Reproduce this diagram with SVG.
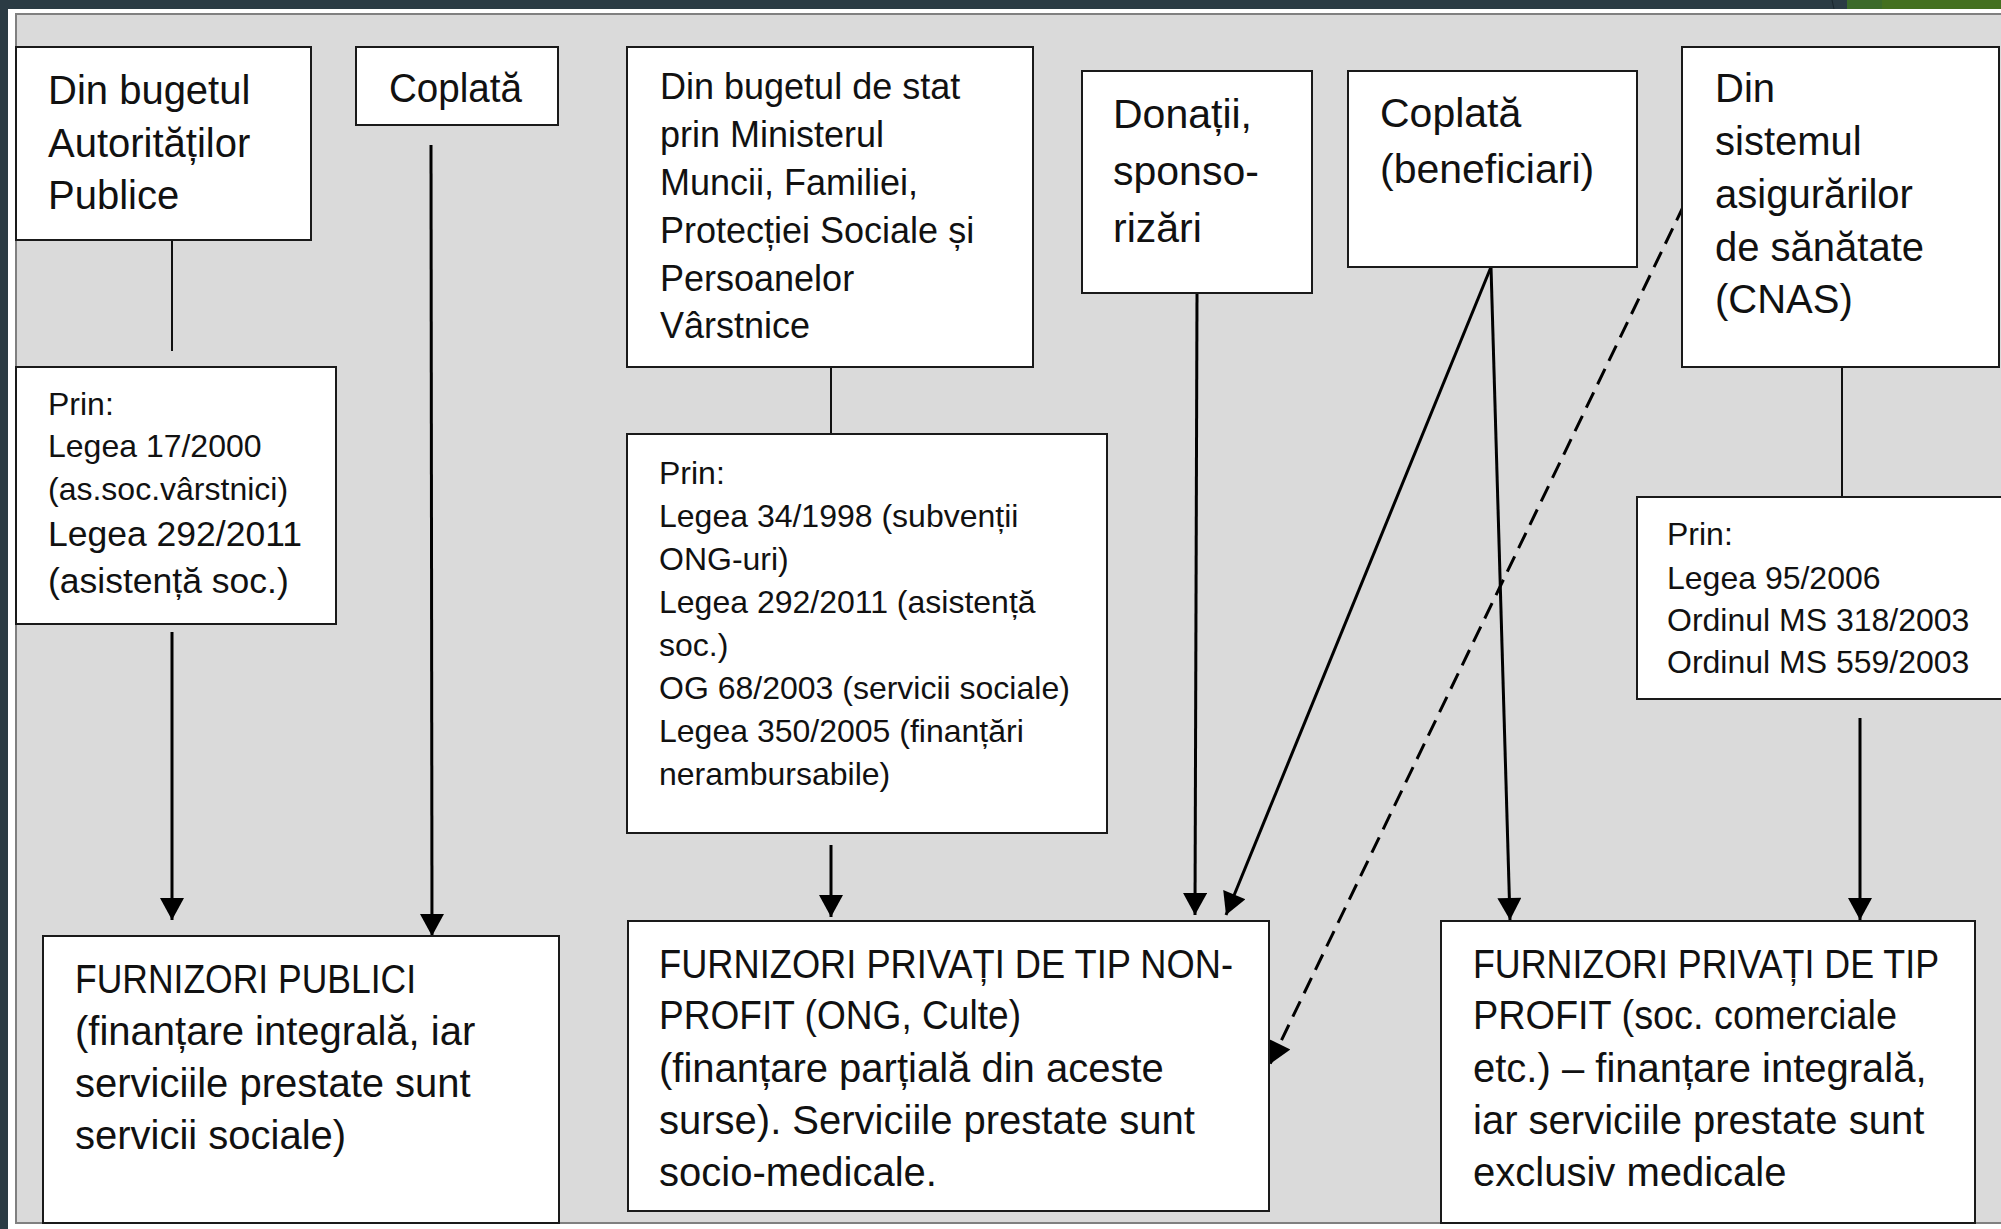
<svg xmlns="http://www.w3.org/2000/svg" width="2001" height="1229" viewBox="0 0 2001 1229">
<style>
.box{fill:#ffffff;stroke:#1a1a1a;stroke-width:2}
.t{font-family:"Liberation Sans",Arial,sans-serif;fill:#111111}
.s40{font-size:40px}
.s36{font-size:36px}
.s32{font-size:32px}
.s35{font-size:35.5px}
.s41{font-size:41px}
.c{stroke:#000;stroke-width:3;fill:none}
.thin{stroke:#111;stroke-width:2;fill:none}
.dash{stroke:#000;stroke-width:3;fill:none;stroke-dasharray:17 9}
</style>
<defs>
<marker id="arr" markerUnits="userSpaceOnUse" markerWidth="24" markerHeight="24" viewBox="0 0 22 24" refX="22" refY="12" orient="auto">
<path d="M0,0 L22,12 L0,24 Z" fill="#000"/>
</marker>
</defs>
<rect x="0" y="0" width="2001" height="1229" fill="#ffffff"/>
<rect x="0" y="0" width="2001" height="9" fill="#2b3b44"/>
<rect x="0" y="0" width="8" height="1229" fill="#2b3b44"/>
<rect x="1847" y="0" width="154" height="9" fill="#44701f"/>
<rect x="1847" y="0" width="35" height="9" fill="#3b6a2a"/>
<line x1="1832" y1="0" x2="1834" y2="9" stroke="#1b272d" stroke-width="1"/>
<rect x="16" y="14" width="2000" height="1209" fill="#dadada" stroke="#808080" stroke-width="2"/>

<g id="connectors">
<line class="thin" x1="172" y1="240" x2="172" y2="351"/>
<line class="c" x1="172" y1="632" x2="172" y2="920" marker-end="url(#arr)"/>
<line class="c" x1="431" y1="145" x2="432" y2="936" marker-end="url(#arr)"/>
<line class="thin" x1="831" y1="367" x2="831" y2="434"/>
<line class="c" x1="831" y1="845" x2="831" y2="917" marker-end="url(#arr)"/>
<line class="c" x1="1197" y1="293" x2="1195" y2="915" marker-end="url(#arr)"/>
<line class="c" x1="1491" y1="267" x2="1226" y2="915" marker-end="url(#arr)"/>
<line class="c" x1="1491" y1="267" x2="1510" y2="920" marker-end="url(#arr)"/>
<line class="dash" x1="1684" y1="205" x2="1270" y2="1064" marker-end="url(#arr)"/>
<line class="thin" x1="1842" y1="367" x2="1842" y2="497"/>
<line class="c" x1="1860" y1="718" x2="1860" y2="920" marker-end="url(#arr)"/>
</g>

<g id="n-autoritati">
<rect class="box" x="16" y="47" width="295" height="193"/>
<text class="t s40" x="48" y="104">Din bugetul</text>
<text class="t s40" x="48" y="157">Autorităților</text>
<text class="t s40" x="48" y="209">Publice</text>
</g>

<g id="n-coplata1">
<rect class="box" x="356" y="47" width="202" height="78"/>
<text class="t s40" x="389" y="102" textLength="133" lengthAdjust="spacingAndGlyphs">Coplată</text>
</g>

<g id="n-buget-stat">
<rect class="box" x="627" y="47" width="406" height="320"/>
<text class="t s36" x="660" y="99">Din bugetul de stat</text>
<text class="t s36" x="660" y="147">prin Ministerul</text>
<text class="t s36" x="660" y="195">Muncii, Familiei,</text>
<text class="t s36" x="660" y="243">Protecției Sociale și</text>
<text class="t s36" x="660" y="291">Persoanelor</text>
<text class="t s36" x="660" y="338">Vârstnice</text>
</g>

<g id="n-donatii">
<rect class="box" x="1082" y="71" width="230" height="222"/>
<text class="t s41" x="1113" y="128">Donații,</text>
<text class="t s41" x="1113" y="185">sponso-</text>
<text class="t s41" x="1113" y="242">rizări</text>
</g>

<g id="n-coplata2">
<rect class="box" x="1348" y="71" width="289" height="196"/>
<text class="t s41" x="1380" y="127">Coplată</text>
<text class="t s41" x="1380" y="183">(beneficiari)</text>
</g>

<g id="n-cnas">
<rect class="box" x="1682" y="47" width="317" height="320"/>
<text class="t s40" x="1715" y="102">Din</text>
<text class="t s40" x="1715" y="155">sistemul</text>
<text class="t s40" x="1715" y="208">asigurărilor</text>
<text class="t s40" x="1715" y="261">de sănătate</text>
<text class="t s40" x="1715" y="313">(CNAS)</text>
</g>

<g id="n-prin1">
<rect class="box" x="16" y="367" width="320" height="257"/>
<text class="t s32" x="48" y="415">Prin:</text>
<text class="t s32" x="48" y="457">Legea 17/2000</text>
<text class="t s32" x="48" y="500">(as.soc.vârstnici)</text>
<text class="t s35" x="48" y="546">Legea 292/2011</text>
<text class="t s35" x="48" y="593">(asistență soc.)</text>
</g>

<g id="n-prin2">
<rect class="box" x="627" y="434" width="480" height="399"/>
<text class="t s32" x="659" y="484">Prin:</text>
<text class="t s32" x="659" y="527">Legea 34/1998 (subvenții</text>
<text class="t s32" x="659" y="570">ONG-uri)</text>
<text class="t s32" x="659" y="613">Legea 292/2011 (asistență</text>
<text class="t s32" x="659" y="656">soc.)</text>
<text class="t s32" x="659" y="699">OG 68/2003 (servicii sociale)</text>
<text class="t s32" x="659" y="742">Legea 350/2005 (finanțări</text>
<text class="t s32" x="659" y="785">nerambursabile)</text>
</g>

<g id="n-prin3">
<rect class="box" x="1637" y="497" width="370" height="202"/>
<text class="t s32" x="1667" y="545">Prin:</text>
<text class="t s32" x="1667" y="589">Legea 95/2006</text>
<text class="t s32" x="1667" y="631">Ordinul MS 318/2003</text>
<text class="t s32" x="1667" y="673">Ordinul MS 559/2003</text>
</g>

<g id="n-publici">
<rect class="box" x="43" y="936" width="516" height="287"/>
<text class="t s40" x="75" y="993" textLength="341" lengthAdjust="spacingAndGlyphs">FURNIZORI PUBLICI</text>
<text class="t s40" x="75" y="1045">(finanțare integrală, iar</text>
<text class="t s40" x="75" y="1097">serviciile prestate sunt</text>
<text class="t s40" x="75" y="1149">servicii sociale)</text>
</g>

<g id="n-nonprofit">
<rect class="box" x="628" y="921" width="641" height="290"/>
<text class="t s40" x="659" y="978" textLength="574" lengthAdjust="spacingAndGlyphs">FURNIZORI PRIVAȚI DE TIP NON-</text>
<text class="t s40" x="659" y="1029" textLength="362" lengthAdjust="spacingAndGlyphs">PROFIT (ONG, Culte)</text>
<text class="t s40" x="659" y="1082">(finanțare parțială din aceste</text>
<text class="t s40" x="659" y="1134">surse). Serviciile prestate sunt</text>
<text class="t s40" x="659" y="1186">socio-medicale.</text>
</g>

<g id="n-profit">
<rect class="box" x="1441" y="921" width="534" height="302"/>
<text class="t s40" x="1473" y="978" textLength="466" lengthAdjust="spacingAndGlyphs">FURNIZORI PRIVAȚI DE TIP</text>
<text class="t s40" x="1473" y="1029" textLength="424" lengthAdjust="spacingAndGlyphs">PROFIT (soc. comerciale</text>
<text class="t s40" x="1473" y="1082">etc.) – finanțare integrală,</text>
<text class="t s40" x="1473" y="1134">iar serviciile prestate sunt</text>
<text class="t s40" x="1473" y="1186">exclusiv medicale</text>
</g>
</svg>
